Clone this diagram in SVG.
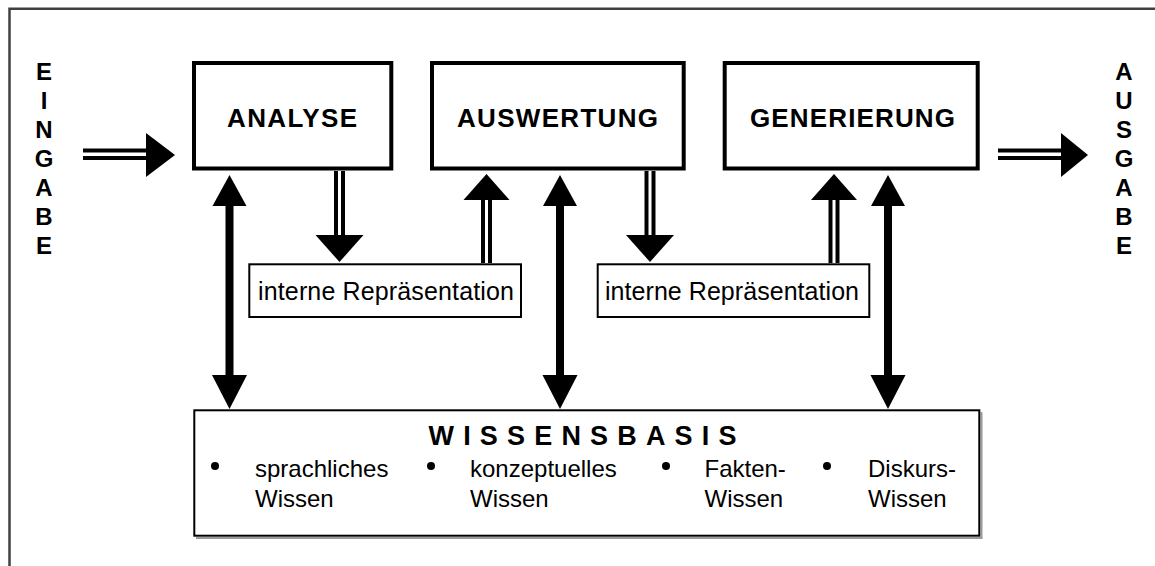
<svg xmlns="http://www.w3.org/2000/svg" width="1155" height="566" viewBox="0 0 1155 566">
<style>
.frame{fill:none;stroke:#404040;stroke-width:2.5}
.box{fill:#fff;stroke:#000;stroke-width:4}
.thin{fill:#fff;stroke:#000;stroke-width:2}
.shadow{fill:none;stroke:#9a9a9a;stroke-width:2}
.t{font-family:"Liberation Sans",Arial,sans-serif;fill:#000}
.title{font-size:26px;font-weight:bold}
.vert{font-size:24px;font-weight:bold;text-anchor:middle}
.rep{font-size:25px}
.kb{font-size:24px}
.kbt{font-size:27px;font-weight:bold}
.dl{stroke:#000;stroke-width:4}
.shaft{stroke:#000;stroke-width:8}
.head{fill:#000}
</style>
<rect width="1155" height="566" fill="#fff"/>
<path class="frame" d="M9.5,566 V8.7 H1155"/>

<g id="eingabe">
<text class="t vert" x="44" y="80">E</text>
<text class="t vert" x="44" y="109">I</text>
<text class="t vert" x="44" y="138">N</text>
<text class="t vert" x="44" y="167">G</text>
<text class="t vert" x="44" y="196">A</text>
<text class="t vert" x="44" y="225">B</text>
<text class="t vert" x="44" y="254">E</text>
</g>
<g id="ausgabe">
<text class="t vert" x="1124" y="80">A</text>
<text class="t vert" x="1124" y="109">U</text>
<text class="t vert" x="1124" y="138">S</text>
<text class="t vert" x="1124" y="167">G</text>
<text class="t vert" x="1124" y="196">A</text>
<text class="t vert" x="1124" y="225">B</text>
<text class="t vert" x="1124" y="254">E</text>
</g>

<g id="analyse">
<rect class="box" x="194" y="63" width="197.3" height="105.5"/>
<text class="t title" x="227" y="127" textLength="130" lengthAdjust="spacing">ANALYSE</text>
</g>
<g id="auswertung">
<rect class="box" x="432" y="63" width="251.7" height="105.5"/>
<text class="t title" x="457" y="127" textLength="201" lengthAdjust="spacing">AUSWERTUNG</text>
</g>
<g id="generierung">
<rect class="box" x="724.7" y="63" width="253" height="105.5"/>
<text class="t title" x="750" y="127" textLength="205" lengthAdjust="spacing">GENERIERUNG</text>
</g>

<g id="rep1">
<rect class="thin" x="249.3" y="264.3" width="271.7" height="52.7"/>
<text class="t rep" x="258" y="300" textLength="256" lengthAdjust="spacing">interne Repräsentation</text>
</g>
<g id="rep2">
<rect class="thin" x="597.7" y="264.3" width="271.6" height="52.7"/>
<text class="t rep" x="605" y="300" textLength="254" lengthAdjust="spacing">interne Repräsentation</text>
</g>

<g id="wissensbasis">
<path class="shadow" d="M196,538 H981.5 V412"/>
<rect class="thin" x="194.3" y="410.3" width="785" height="125.4"/>
<text class="t kbt" x="428.5" y="445" textLength="308" lengthAdjust="spacing">WISSENSBASIS</text>
<circle cx="215" cy="466" r="4"/>
<circle cx="431" cy="466" r="4"/>
<circle cx="666" cy="466" r="4"/>
<circle cx="827" cy="466" r="4"/>
<text class="t kb" x="255" y="477">sprachliches</text>
<text class="t kb" x="255" y="507">Wissen</text>
<text class="t kb" x="470" y="477">konzeptuelles</text>
<text class="t kb" x="470" y="507">Wissen</text>
<text class="t kb" x="704.5" y="477">Fakten-</text>
<text class="t kb" x="704.5" y="507">Wissen</text>
<text class="t kb" x="868" y="477">Diskurs-</text>
<text class="t kb" x="868" y="507">Wissen</text>
</g>

<g id="connectors">
<!-- input -->
<line class="dl" x1="83" y1="150.5" x2="148" y2="150.5"/>
<line class="dl" x1="83" y1="158" x2="148" y2="158"/>
<polygon class="head" points="146,133 175,155 146,177"/>
<!-- output -->
<line class="dl" x1="998" y1="150.5" x2="1063" y2="150.5"/>
<line class="dl" x1="998" y1="158" x2="1063" y2="158"/>
<polygon class="head" points="1061,133 1088,155 1061,177"/>
<!-- analyse -> rep1 -->
<line class="dl" x1="336" y1="171" x2="336" y2="236"/>
<line class="dl" x1="343" y1="171" x2="343" y2="236"/>
<polygon class="head" points="315.5,235 363.5,235 339.5,262"/>
<!-- rep1 -> auswertung -->
<line class="dl" x1="483" y1="263" x2="483" y2="199"/>
<line class="dl" x1="490" y1="263" x2="490" y2="199"/>
<polygon class="head" points="463.5,200 509.5,200 486.5,174"/>
<!-- auswertung -> rep2 -->
<line class="dl" x1="646.5" y1="171" x2="646.5" y2="236"/>
<line class="dl" x1="653.5" y1="171" x2="653.5" y2="236"/>
<polygon class="head" points="626,235 674,235 650,262"/>
<!-- rep2 -> generierung -->
<line class="dl" x1="830.5" y1="263" x2="830.5" y2="199"/>
<line class="dl" x1="837.5" y1="263" x2="837.5" y2="199"/>
<polygon class="head" points="811,200 857,200 834,174"/>
<!-- bidirectional -->
<line class="shaft" x1="229.5" y1="204" x2="229.5" y2="377"/>
<polygon class="head" points="212.5,206 246.5,206 229.5,175"/>
<polygon class="head" points="212,375 247,375 229.5,409"/>
<line class="shaft" x1="560" y1="204" x2="560" y2="377"/>
<polygon class="head" points="543,206 577,206 560,175"/>
<polygon class="head" points="542.5,375 577.5,375 560,409"/>
<line class="shaft" x1="888" y1="204" x2="888" y2="377"/>
<polygon class="head" points="871,206 905,206 888,175"/>
<polygon class="head" points="870.5,375 905.5,375 888,409"/>
</g>
</svg>
